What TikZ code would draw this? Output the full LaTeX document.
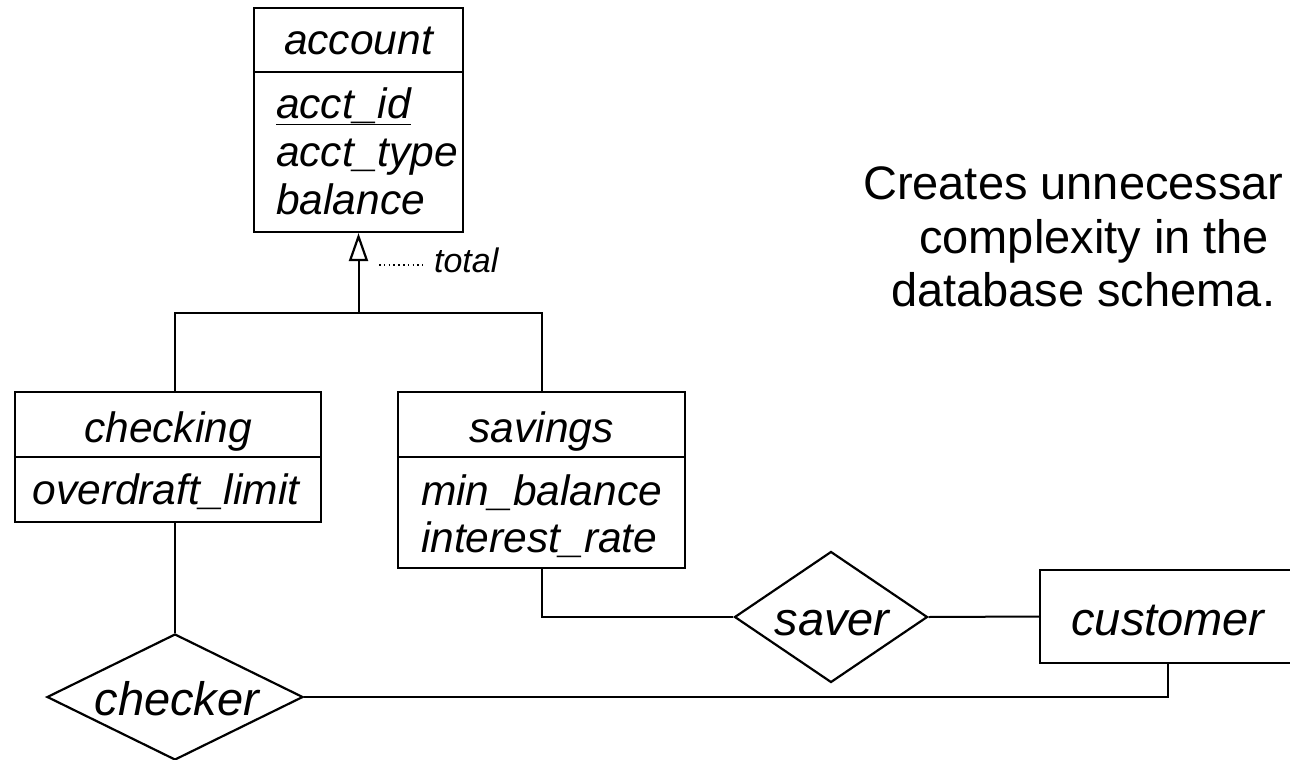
\documentclass[tikz,border=0pt]{standalone}
\usepackage{fontspec}
\setmainfont{Liberation Sans}
\usetikzlibrary{shapes.geometric,arrows.meta,calc}
\begin{document}
\begin{tikzpicture}[x=1pt,y=-1pt,
  line width=2.2pt,
  ent/.style={draw,rectangle,inner sep=0pt},
  rel/.style={draw,diamond,inner sep=0pt,shape aspect=2},
  lab/.style={font=\fontsize{42.5}{48}\selectfont\itshape,inner sep=0pt},
  big/.style={font=\fontsize{47}{52}\selectfont\itshape,inner sep=0pt,anchor=base},
  note/.style={font=\fontsize{47}{54}\selectfont,inner sep=0pt,anchor=base west},
  conn/.style={line width=2pt}]
\useasboundingbox (0,0) rectangle (1290,760);
\clip (0,0) rectangle (1290,760);
% account
\node[ent,minimum width=209pt,minimum height=224pt] (account) at (358.5,120) {};
\draw (account.west |- 0,72) -- (account.east |- 0,72);
\node[lab,anchor=base] (accname) at (358.5,55) {account};
\node[lab,anchor=base west] (a1) at (275,118) {\underline{acct\_id}};
\node[lab,anchor=base west] (a2) at (275,166) {acct\_type};
\node[lab,anchor=base west] (a3) at (275,214) {balance};
% checking
\node[ent,minimum width=306pt,minimum height=130pt] (checking) at (168,457) {};
\draw (checking.west |- 0,457) -- (checking.east |- 0,457);
\node[lab,anchor=base] (chkname) at (168,442) {checking};
\node[lab,anchor=base] (c1) at (166,504) {overdraft\_limit};
% savings
\node[ent,minimum width=287pt,minimum height=176pt] (savings) at (541.5,480) {};
\draw (savings.west |- 0,457) -- (savings.east |- 0,457);
\node[lab,anchor=base] (savname) at (541.5,442) {savings};
\node[lab,anchor=base west] (s1) at (420,505) {min\_balance};
\node[lab,anchor=base west] (s2) at (420,552) {interest\_rate};
% relationships
\node[rel,minimum width=193pt,minimum height=131pt,shape aspect=1.5] (saver) at (831,617) {};
\node[big] (savtxt) at (832,635) {saver};
\node[rel,minimum width=256pt,minimum height=126pt] (checker) at (175,697) {};
\node[big] (chktxt) at (177,715) {checker};
% customer (cut off at right edge)
\node[ent,minimum width=256pt,minimum height=93pt] (customer) at (1168,616.5) {};
\node[big] (custxt) at (1168,635) {customer};
% generalization
\coordinate (gen) at (358.5,313);
\draw[conn] (checker.north |- checking.north) -- (checker.north |- gen) -- (savings.north |- gen) -- (savings.north);
\draw[conn,-{Triangle[open,length=28pt,width=19pt,line width=2.2pt]}] (gen) -- (account.south);
\coordinate (d1) at (379,265);
\coordinate (d2) at (423,265);
\draw[line width=1.6pt,dash pattern=on 1.6pt off 3.2pt] (d1) -- (d2);
\node[font=\fontsize{34}{40}\selectfont\itshape,inner sep=0pt,anchor=base west] (total) at (433,272) {total};
% relationship connectors
\draw[conn] (checker.north |- checking.south) -- (checker.north);
\draw[conn] (savings.south) |- (saver.west);
\draw[conn] (saver.east) -- (customer.west);
\draw[conn] (customer.south) |- (checker.east);
% note
\node[note] (n1) at (862,199) {Creates unnecessar};
\node[note] (n2) at (918,253) {complexity in the};
\node[note] (n3) at (890,306) {database schema.};
\end{tikzpicture}
\end{document}
